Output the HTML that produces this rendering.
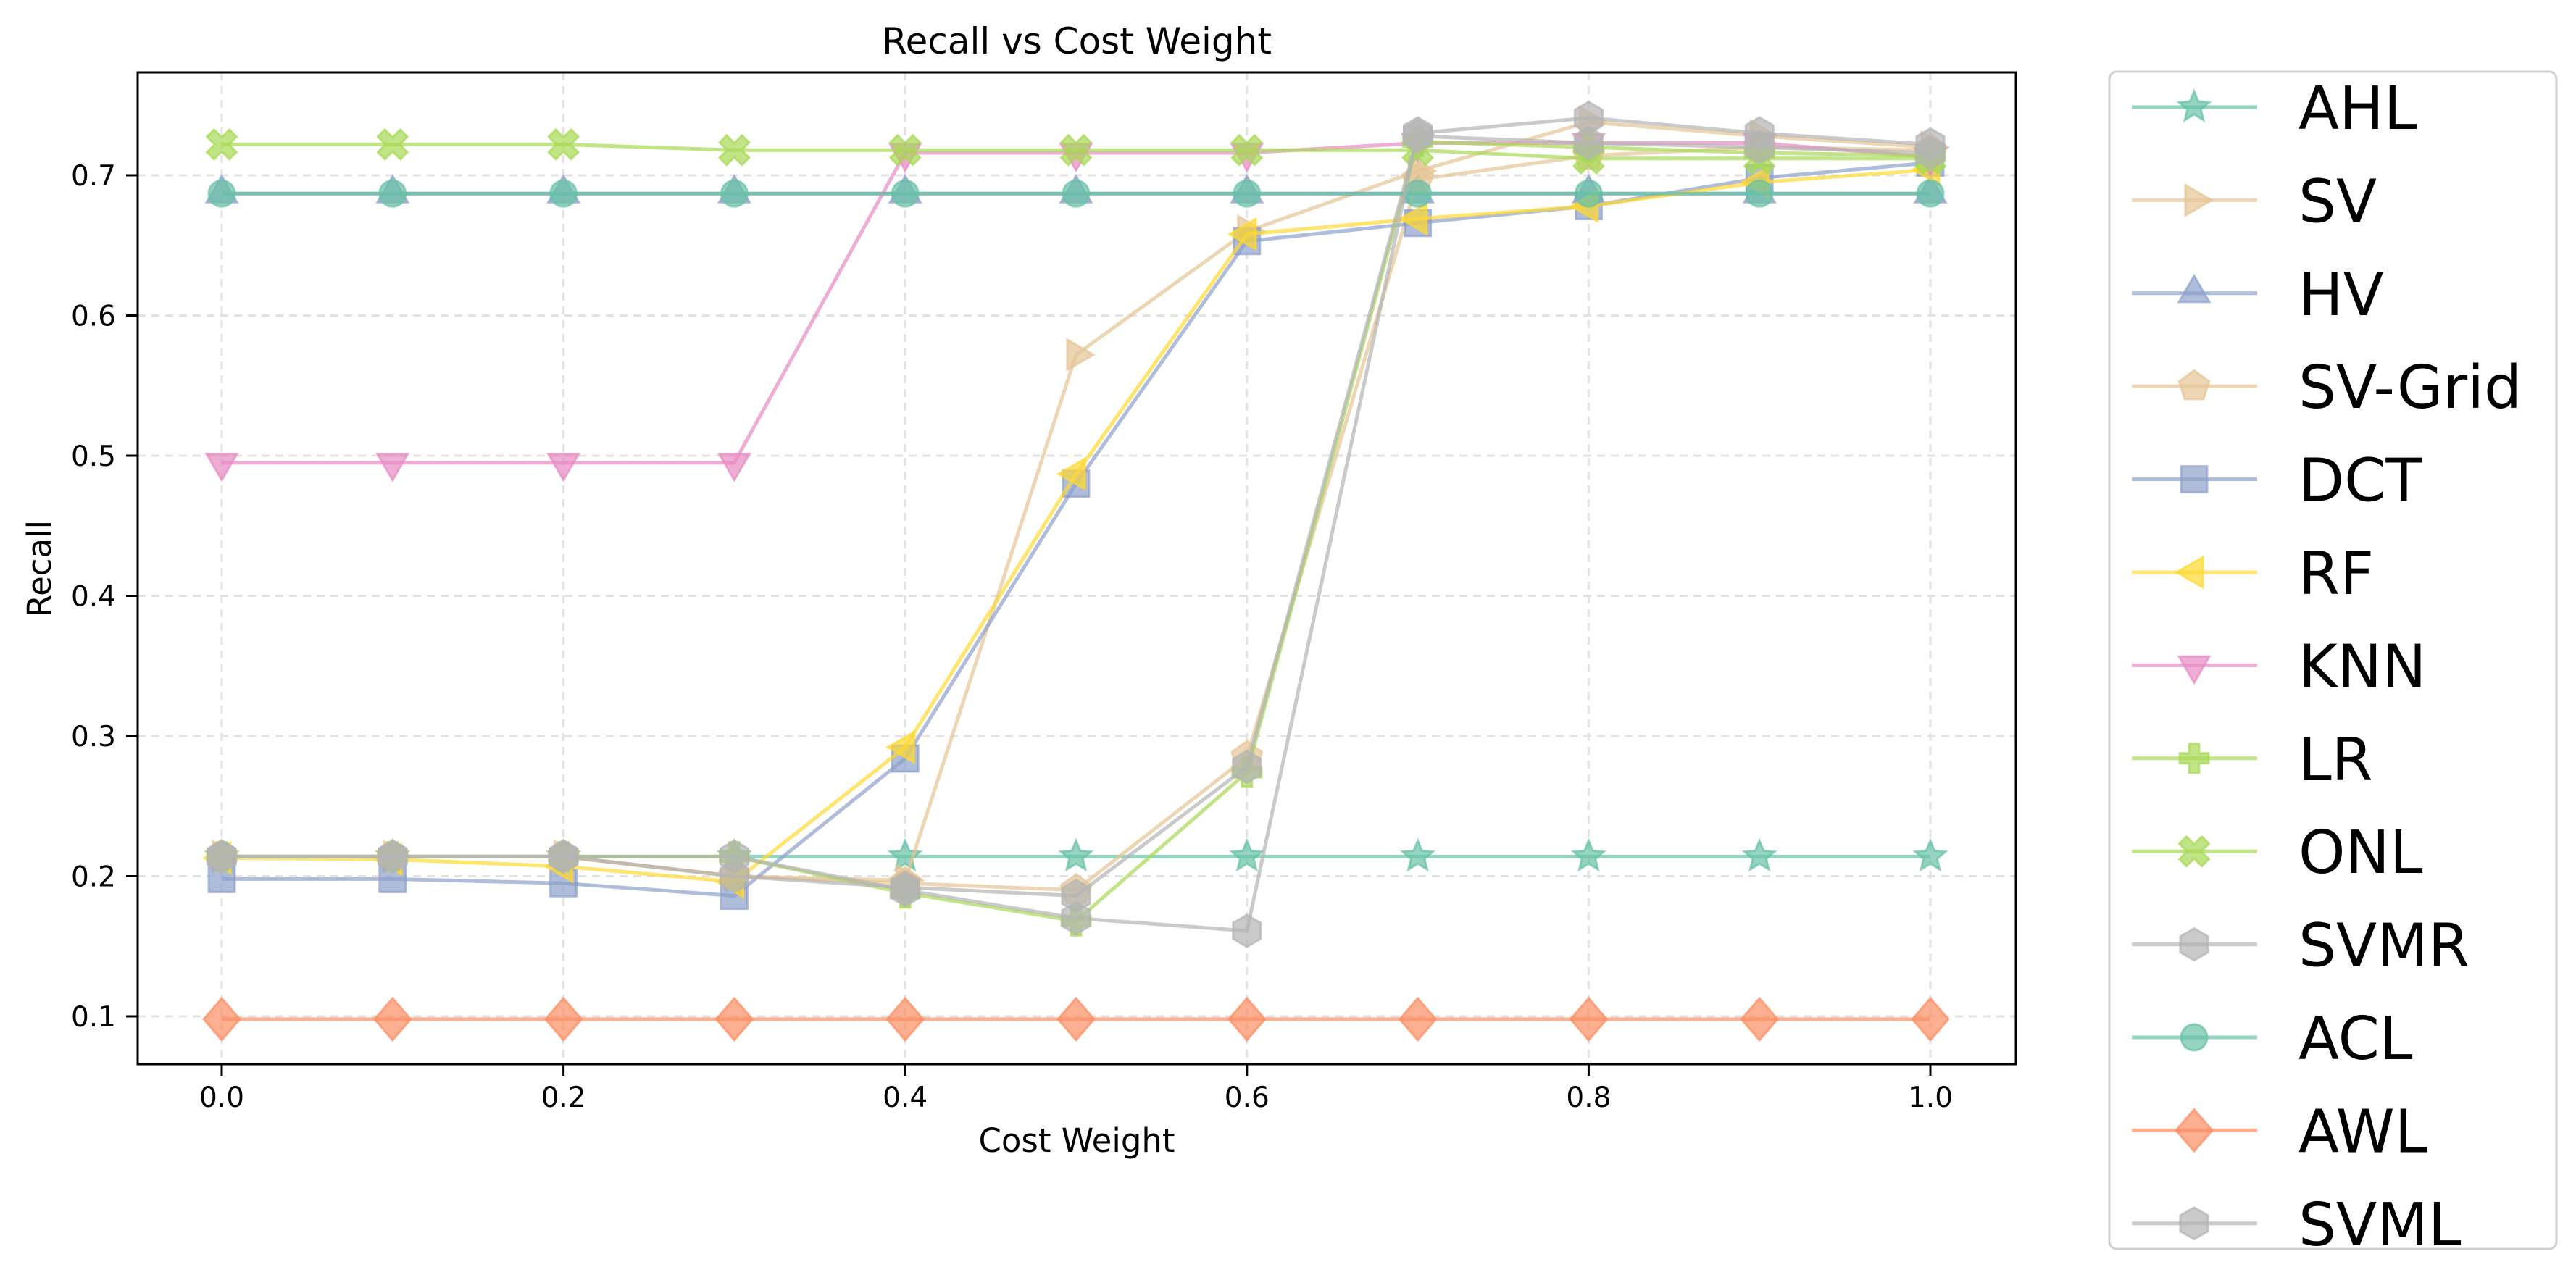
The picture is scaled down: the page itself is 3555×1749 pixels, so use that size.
<!DOCTYPE html>
<html><head><meta charset="utf-8">
<style>
html,body{margin:0;padding:0;background:#fff;}
svg{display:block;font-family:"DejaVu Sans","Liberation Sans",sans-serif;}
</style></head>
<body>
<svg id="chart" width="3555" height="1749" viewBox="0 0 3555 1749" xmlns="http://www.w3.org/2000/svg">
<rect width="3555" height="1749" fill="#fff"/>
<text x="1486" y="74" font-size="50" text-anchor="middle">Recall vs Cost Weight</text>
<text x="1486" y="1590" font-size="45" text-anchor="middle">Cost Weight</text>
<text x="0" y="0" font-size="45" text-anchor="middle" transform="translate(70,785) rotate(-90)">Recall</text>
<g id="grid"></g>
<g id="series"></g>
<rect x="190" y="100" width="2592" height="1369" fill="none" stroke="#000" stroke-width="3"/>
<g id="ticks"></g>
<rect x="2911" y="99" width="617" height="1625" rx="10" fill="#fff" stroke="#d0d0d0" stroke-width="3"/>
<g id="legend"></g>
</svg>
<script>
const xValues = [0,0.1,0.2,0.3,0.4,0.5,0.6,0.7,0.8,0.9,1.0];
const xTicks = [0,0.2,0.4,0.6,0.8,1.0];
const yTicks = [0.1,0.2,0.3,0.4,0.5,0.6,0.7];
const seriesNames = ["AHL","SV","HV","SV-Grid","DCT","RF","KNN","LR","ONL","SVMR","ACL","AWL","SVML"];
const AHL = [0.214,0.214,0.214,0.214,0.214,0.214,0.214,0.214,0.214,0.214,0.214];
const SV = [0.214,0.214,0.214,0.200,0.197,0.572,0.660,0.703,0.738,0.728,0.720];
const HV = [0.687,0.687,0.687,0.687,0.687,0.687,0.687,0.687,0.687,0.687,0.687];
const SVGrid = [0.214,0.214,0.214,0.200,0.195,0.190,0.285,0.697,0.714,0.720,0.718];
const DCT = [0.198,0.198,0.195,0.186,0.284,0.480,0.653,0.666,0.678,0.698,0.709];
const RF = [0.213,0.212,0.207,0.196,0.292,0.487,0.658,0.669,0.678,0.695,0.704];
const KNN = [0.495,0.495,0.495,0.495,0.716,0.716,0.716,0.723,0.723,0.723,0.713];
const LR = [0.214,0.214,0.214,0.214,0.188,0.168,0.274,0.724,0.720,0.716,0.714];
const ONL = [0.722,0.722,0.722,0.718,0.718,0.718,0.718,0.718,0.712,0.712,0.712];
const SVMR = [0.214,0.214,0.214,0.200,0.192,0.186,0.278,0.728,0.723,0.720,0.716];
const ACL = [0.687,0.687,0.687,0.687,0.687,0.687,0.687,0.687,0.687,0.687,0.687];
const AWL = [0.098,0.098,0.098,0.098,0.098,0.098,0.098,0.098,0.098,0.098,0.098];
const SVML = [0.214,0.214,0.214,0.214,0.190,0.170,0.161,0.730,0.741,0.730,0.722];
const seriesValues = [AHL,SV,HV,SVGrid,DCT,RF,KNN,LR,ONL,SVMR,ACL,AWL,SVML];
const colors = ["#66c2a5","#e5c494","#8da0cb","#e5c494","#8da0cb","#ffd92f","#e78ac3","#a6d854","#a6d854","#b3b3b3","#66c2a5","#fc8d62","#b3b3b3"];
const markers = ["star","tright","tup","pent","square","tleft","tdown","plus","x","hex","circle","diamond","hex"];

const NS="http://www.w3.org/2000/svg";
function X(v){return 306+(v-0)*2358;}
function Y(v){return 1403-(v-0.1)*1935;}
function mk(tag,attrs,parent){const e=document.createElementNS(NS,tag);for(const k in attrs)e.setAttribute(k,attrs[k]);parent.appendChild(e);return e;}
function poly(pts){return pts.map(p=>p[0].toFixed(1)+","+p[1].toFixed(1)).join(" ");}
function reg(n,r,rot){const a=[];for(let i=0;i<n;i++){const t=rot+i*2*Math.PI/n;a.push([r*Math.cos(t),r*Math.sin(t)]);}return a;}
function shape(type){
  const r=22;
  switch(type){
    case "star":{const a=[];for(let i=0;i<10;i++){const t=-Math.PI/2+i*Math.PI/5;const rr=i%2?r*0.45:r;a.push([rr*Math.cos(t),rr*Math.sin(t)]);}return a;}
    case "tright":return reg(3,r*1.1,0);
    case "tleft":return reg(3,r*1.1,Math.PI);
    case "tup":return reg(3,r*1.1,-Math.PI/2);
    case "tdown":return reg(3,r*1.1,Math.PI/2);
    case "pent":return reg(5,r,-Math.PI/2);
    case "hex":return reg(6,r,-Math.PI/2);
    case "square":return [[-18,-18],[18,-18],[18,18],[-18,18]];
    case "diamond":return [[0,-29],[25,0],[0,29],[-25,0]];
    case "plus":{const a=7,b=20;return [[-a,-b],[a,-b],[a,-a],[b,-a],[b,a],[a,a],[a,b],[-a,b],[-a,a],[-b,a],[-b,-a],[-a,-a]];}
    case "x":{const s=0.7071;const a=7,b=22;const p=[[-a,-b],[a,-b],[a,-a],[b,-a],[b,a],[a,a],[a,b],[-a,b],[-a,a],[-b,a],[-b,-a],[-a,-a]];return p.map(q=>[(q[0]-q[1])*s,(q[0]+q[1])*s]);}
  }
  return null;
}
function drawMarker(parent,type,cx,cy,color){
  let el;
  if(type==="circle"){el=mk("circle",{cx:cx,cy:cy,r:18,fill:color,"fill-opacity":0.7,stroke:color,"stroke-width":3,"stroke-opacity":0.7},parent);}
  else{el=mk("polygon",{points:poly(shape(type).map(p=>[p[0]+cx,p[1]+cy])),fill:color,"fill-opacity":0.7,stroke:color,"stroke-width":3,"stroke-opacity":0.7,"stroke-linejoin":"miter"},parent);}
  return el;
}
const grid=document.getElementById("grid");
xTicks.forEach(t=>{
  const l=mk("line",{x1:X(t),x2:X(t),y1:100,y2:1469,stroke:"#e3e3e3","stroke-width":3,"stroke-dasharray":"11,8"},grid);
  
  
});
yTicks.forEach(t=>{
  const l=mk("line",{x1:190,x2:2782,y1:Y(t),y2:Y(t),stroke:"#e3e3e3","stroke-width":3,"stroke-dasharray":"11,8"},grid);
  
  
});
const ticks=document.getElementById("ticks");
xTicks.forEach(t=>{
  const l=mk("line",{x1:X(t),x2:X(t),y1:1469,y2:1485,stroke:"#000","stroke-width":3},ticks);
  
  
  const tx=mk("text",{x:X(t),y:1528,"font-size":39,"text-anchor":"middle"},ticks);
  tx.textContent=t.toFixed(1);
  
  
});
yTicks.forEach(t=>{
  const l=mk("line",{x1:174,x2:190,y1:Y(t),y2:Y(t),stroke:"#000","stroke-width":3},ticks);
  
  
  const tx=mk("text",{x:160,y:Y(t)+14,"font-size":39,"text-anchor":"end"},ticks);
  tx.textContent=t.toFixed(1);
  
  
});
const sg=document.getElementById("series");
seriesValues.forEach((vals,i)=>{
  const g=mk("g",{},sg);
  
  
  const pl=mk("polyline",{points:poly(vals.map((v,j)=>[X(xValues[j]),Y(v)])),fill:"none",stroke:colors[i],"stroke-width":5,"stroke-opacity":0.7,"stroke-linejoin":"round"},g);
  
  
  vals.forEach((v,j)=>{
    const m=drawMarker(g,markers[i],X(xValues[j]),Y(v),colors[i]);
    
    
  });
});
const lg=document.getElementById("legend");
seriesNames.forEach((n,i)=>{
  const y=148+i*128.4;
  const g=mk("g",{},lg);
  
  
  mk("line",{x1:2942,x2:3115,y1:y,y2:y,stroke:colors[i],"stroke-width":5,"stroke-opacity":0.7},g);
  drawMarker(g,markers[i],3028,y,colors[i]);
  const t=mk("text",{x:3172,y:y+30,"font-size":82},g);
  t.textContent=n;
  
  
});
</script>
</body></html>
